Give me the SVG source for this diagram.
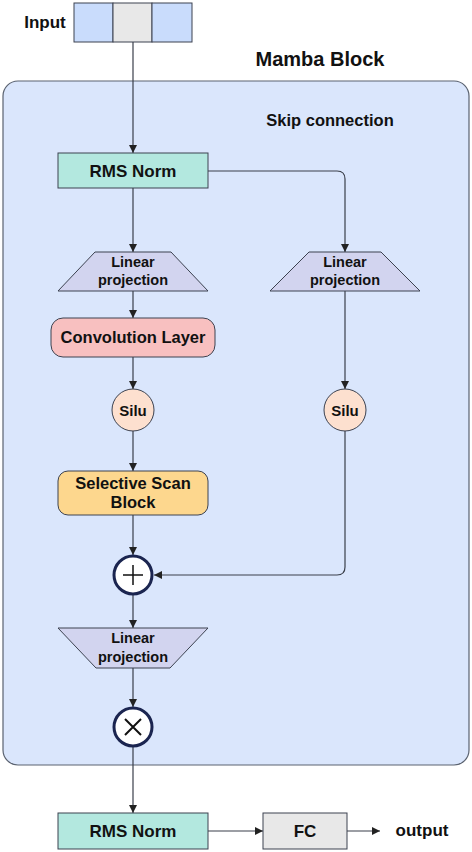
<svg xmlns="http://www.w3.org/2000/svg" width="472" height="852" viewBox="0 0 472 852">
<defs>
<style>
text{font-family:"Liberation Sans",Arial,sans-serif;font-weight:bold;fill:#111;text-anchor:middle;dominant-baseline:central}
.node{stroke:#3c4250;stroke-width:1}
.ln{fill:none;stroke:#3a3f4a;stroke-width:1.2}
.op{fill:#fff;stroke:#1b2550;stroke-width:3}
</style>
<marker id="ah" viewBox="0 0 10 10" refX="10" refY="5" markerWidth="8" markerHeight="8" orient="auto" markerUnits="userSpaceOnUse">
<path d="M0,0 L10,5 L0,10 z" fill="#222"/>
</marker>
</defs>
<rect width="472" height="852" fill="#fff"/>
<g id="container">
<rect x="3" y="81" width="466" height="684" rx="15" fill="#dae6fc" stroke="#5a6270" stroke-width="1.2"/>
<text x="320" y="59" font-size="20">Mamba Block</text>
<text x="330" y="120" font-size="16.5">Skip connection</text>
</g>
<g id="input">
<text x="45" y="22" font-size="17">Input</text>
<rect x="74" y="3" width="39" height="39" fill="#c9dcfc" stroke="#3c4250"/>
<rect x="113" y="3" width="39" height="39" fill="#e8e8e8" stroke="#3c4250"/>
<rect x="152" y="3" width="40" height="39" fill="#c9dcfc" stroke="#3c4250"/>
</g>
<g id="connectors">
<path class="ln" d="M133,42 V153" marker-end="url(#ah)"/>
<path class="ln" d="M133,188 V252" marker-end="url(#ah)"/>
<path class="ln" d="M208,171 H337 Q345,171 345,179 V252" marker-end="url(#ah)"/>
<path class="ln" d="M133,291 V318" marker-end="url(#ah)"/>
<path class="ln" d="M133,357 V389" marker-end="url(#ah)"/>
<path class="ln" d="M133,431 V471" marker-end="url(#ah)"/>
<path class="ln" d="M345,291 V389" marker-end="url(#ah)"/>
<path class="ln" d="M133,515 V555" marker-end="url(#ah)"/>
<path class="ln" d="M345,431 V567 Q345,575 337,575 H154" marker-end="url(#ah)"/>
<path class="ln" d="M133,595 V628" marker-end="url(#ah)"/>
<path class="ln" d="M133,668 V707" marker-end="url(#ah)"/>
<path class="ln" d="M133,747 V813" marker-end="url(#ah)"/>
<path class="ln" d="M208,831 H263" marker-end="url(#ah)"/>
<path class="ln" d="M347,831 H380" marker-end="url(#ah)"/>
</g>
<g id="rmsnorm1">
<rect class="node" x="58" y="153" width="150" height="35" fill="#b3e8df"/>
<text x="133" y="171" font-size="17">RMS Norm</text>
</g>
<g id="linproj1">
<polygon class="node" points="95,252 171,252 208,291 58,291" fill="#d2d4ef"/>
<text x="133" y="262" font-size="14.5">Linear</text>
<text x="133" y="280" font-size="14.5">projection</text>
</g>
<g id="linproj2">
<polygon class="node" points="309,252 381,252 420,291 270,291" fill="#d2d4ef"/>
<text x="345" y="262" font-size="14.5">Linear</text>
<text x="345" y="280" font-size="14.5">projection</text>
</g>
<g id="conv">
<rect class="node" x="51" y="318" width="164" height="39" rx="12" fill="#f8c0c0"/>
<text x="133" y="337" font-size="16.5">Convolution Layer</text>
</g>
<g id="silu1">
<circle class="node" cx="133" cy="410" r="21" fill="#fde0cf"/>
<text x="133" y="410" font-size="15">Silu</text>
</g>
<g id="silu2">
<circle class="node" cx="345" cy="410" r="21" fill="#fde0cf"/>
<text x="345" y="410" font-size="15">Silu</text>
</g>
<g id="ssb">
<rect class="node" x="58" y="471" width="150" height="44" rx="10" fill="#fdd78e"/>
<text x="133" y="483" font-size="16.5">Selective Scan</text>
<text x="133" y="502" font-size="16.5">Block</text>
</g>
<g id="add">
<circle class="op" cx="133" cy="575" r="19"/>
<path d="M133,565 V585 M123,575 H143" stroke="#111" stroke-width="1.5"/>
</g>
<g id="linproj3">
<polygon class="node" points="58,628 208,628 170,668 96,668" fill="#d2d4ef"/>
<text x="133" y="638" font-size="14.5">Linear</text>
<text x="133" y="657" font-size="14.5">projection</text>
</g>
<g id="mul">
<circle class="op" cx="133" cy="727" r="19"/>
<path d="M125,719 L141,735 M141,719 L125,735" stroke="#111" stroke-width="2"/>
</g>
<g id="rmsnorm2">
<rect class="node" x="58" y="813" width="150" height="36" fill="#b3e8df"/>
<text x="133" y="831" font-size="17">RMS Norm</text>
</g>
<g id="fc">
<rect class="node" x="263" y="813" width="84" height="36" fill="#e8e8e8"/>
<text x="305" y="831" font-size="17">FC</text>
</g>
<g id="output">
<text x="422" y="830" font-size="17">output</text>
</g>
</svg>
